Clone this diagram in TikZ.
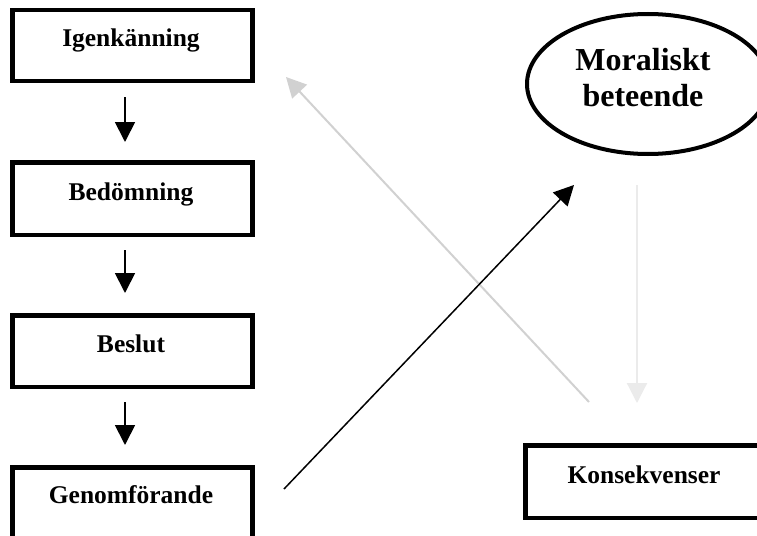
\documentclass[tikz,border=0pt]{standalone}
\usepackage{fontspec}
\setmainfont{Liberation Serif}
\usetikzlibrary{arrows.meta}
\begin{document}
\begin{tikzpicture}[x=1pt,y=-1pt,
  stepbox/.style={draw=black,line width=4.5pt},
  lbl/.style={anchor=base,inner sep=0pt,font=\fontsize{25.5}{30}\selectfont\bfseries},
  bigtxt/.style={align=center,inner sep=0pt,font=\fontsize{32}{36}\selectfont\bfseries},
  blackarr/.style={line width=1.8pt,-{Triangle[length=20pt,width=20pt]}},
  grayarr/.style={draw=black!18,line width=2pt,-{Triangle[length=20pt,width=20pt]}},
  palearr/.style={draw=black!8,line width=2.2pt,-{Triangle[length=20pt,width=20pt]}}]
\clip (0,0) rectangle (757,535);
\fill[white] (0,0) rectangle (757,535);
% boxes
\draw[stepbox] (12.25,10.25) rectangle (252.25,80.75);
\draw[stepbox] (12.25,162.25) rectangle (252.25,234.75);
\draw[stepbox] (12.25,315.25) rectangle (252.25,386.75);
\draw[stepbox] (12.25,467.25) rectangle (252.25,560);
\draw[stepbox] (525.25,445.25) rectangle (800,517.75);
\node[lbl] (igen) at (131,47) {Igenkänning};
\node[lbl] (bedom) at (131,200) {Bedömning};
\node[lbl] (beslut) at (131,352) {Beslut};
\node[lbl] (genom) at (131,503) {Genomförande};
\node[lbl] (kons) at (644,483) {Konsekvenser};
% ellipse
\draw[line width=4pt] (648,84) ellipse [x radius=121, y radius=70];
\node[bigtxt] (moral) at (643,78) {Moraliskt\\beteende};
% coordinates
\coordinate (a1s) at (125,97);  \coordinate (a1e) at (125,142);
\coordinate (a2s) at (125,250); \coordinate (a2e) at (125,293);
\coordinate (a3s) at (125,402); \coordinate (a3e) at (125,445);
\coordinate (gs) at (284,489);  \coordinate (ge) at (574,185);
\coordinate (ks) at (589,402);  \coordinate (ke) at (286,77);
\coordinate (ms) at (637,185);  \coordinate (me) at (637,403);
\draw[blackarr] (a1s) -- (a1e);
\draw[blackarr] (a2s) -- (a2e);
\draw[blackarr] (a3s) -- (a3e);
\draw[grayarr] (ks) -- (ke);
\draw[palearr] (ms) -- (me);
\draw[line width=1.5pt,-{Triangle[length=20pt,width=20pt]}] (gs) -- (ge);
\end{tikzpicture}
\end{document}
